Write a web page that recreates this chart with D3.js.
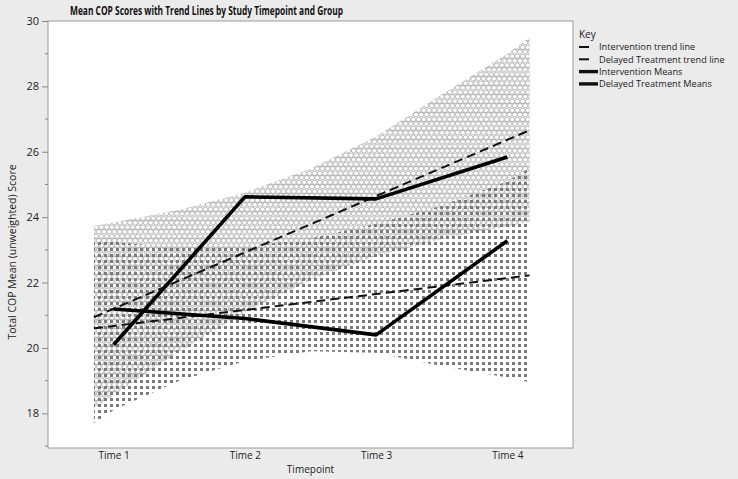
<!DOCTYPE html>
<html>
<head>
<meta charset="utf-8">
<script src="https://cdn.jsdelivr.net/npm/d3@7"></script>
<style>
  body { margin: 0; background: #ebebeb; }
  svg { display: block; font-family: "Open Sans", "Noto Sans", sans-serif; }
</style>
</head>
<body>
<svg width="738" height="479"></svg>
<script>
let timepoints = ["Time 1", "Time 2", "Time 3", "Time 4"];
let time_index = [1, 2, 3, 4];
let intervention_means = [20.1, 24.62, 24.56, 25.84];
let delayed_means = [21.19, 20.9, 20.4, 23.28];

// trend lines, read at the left and right ends of the bands
let trend_t = [0.85, 4.17];
let intervention_trend = [20.94, 26.66];
let delayed_trend = [20.6, 22.22];

// confidence bands
let band_t = [0.85, 1, 1.5, 2, 2.5, 3, 3.5, 4, 4.17];
let intervention_upper = [23.74, 23.84, 24.23, 24.75, 25.48, 26.47, 27.75, 29.0, 29.5];
let intervention_lower = [18.14, 18.56, 19.89, 21.09, 22.08, 22.81, 23.33, 23.72, 23.86];
let delayed_upper = [23.35, 23.25, 23.05, 23.1, 23.35, 23.8, 24.35, 25.1, 25.5];
let delayed_lower = [17.7, 18.1, 19.0, 19.6, 19.9, 19.85, 19.45, 19.1, 18.95];

let y_ticks = [18, 20, 22, 24, 26, 28, 30];
let y_minor = [17, 19, 21, 23, 25, 27, 29];

let keys = [
    { label: "Intervention trend line", kind: "trend" },
    { label: "Delayed Treatment trend line", kind: "trend" },
    { label: "Intervention Means", kind: "mean" },
    { label: "Delayed Treatment Means", kind: "mean" }
];

let plot_l = 48, plot_r = 573, plot_t = 21, plot_b = 448;
let svg = d3.select('svg');

let x = d3.scaleLinear().domain([0.5, 4.5]).range([plot_l, plot_r]);
let y = d3.scaleLinear().domain([16.94, 30]).range([plot_b, plot_t]);

let defs = svg.append('defs');

// honeycomb pattern for the intervention band
let hex = defs.append('pattern')
    .attr('id', 'hex')
    .attr('patternUnits', 'userSpaceOnUse')
    .attr('width', 5.2)
    .attr('height', 9);
[[2.6, 2.25], [0, 6.75], [5.2, 6.75]].forEach(function (c) {
    hex.append('circle')
        .attr('cx', c[0]).attr('cy', c[1]).attr('r', 2.3)
        .attr('fill', 'none').attr('stroke', '#a8a8a8').attr('stroke-width', 0.8);
});

// square dot pattern for the delayed band
defs.append('pattern')
    .attr('id', 'dots')
    .attr('patternUnits', 'userSpaceOnUse')
    .attr('width', 6)
    .attr('height', 6)
    .append('rect')
    .attr('x', 2).attr('y', 2).attr('width', 3).attr('height', 3)
    .attr('shape-rendering', 'crispEdges')
    .attr('fill', '#7a7a7a');

svg.append('rect')
    .attr('x', plot_l).attr('y', plot_t)
    .attr('width', plot_r - plot_l).attr('height', plot_b - plot_t)
    .attr('fill', 'white');

let area = d3.area()
    .x(function (d) { return x(d.t); })
    .y0(function (d) { return y(d.lo); })
    .y1(function (d) { return y(d.hi); });

let int_band = band_t.map(function (t, i) { return { t: t, lo: intervention_lower[i], hi: intervention_upper[i] }; });
let del_band = band_t.map(function (t, i) { return { t: t, lo: delayed_lower[i], hi: delayed_upper[i] }; });

svg.append('path').datum(int_band).attr('d', area).attr('fill', 'url(#hex)');
svg.append('path').datum(del_band).attr('d', area).attr('fill', 'url(#dots)');

let line = d3.line()
    .x(function (d) { return x(d[0]); })
    .y(function (d) { return y(d[1]); });

[intervention_trend, delayed_trend].forEach(function (tr) {
    svg.append('path')
        .datum(trend_t.map(function (t, i) { return [t, tr[i]]; }))
        .attr('d', line)
        .attr('fill', 'none')
        .attr('stroke', '#111')
        .attr('stroke-width', 2)
        .attr('stroke-dasharray', '9,5');
});

[intervention_means, delayed_means].forEach(function (m) {
    svg.append('path')
        .datum(time_index.map(function (t, i) { return [t, m[i]]; }))
        .attr('d', line)
        .attr('fill', 'none')
        .attr('stroke', '#000')
        .attr('stroke-width', 3.6)
        .attr('stroke-linejoin', 'round');
});

svg.append('rect')
    .attr('x', plot_l).attr('y', plot_t)
    .attr('width', plot_r - plot_l).attr('height', plot_b - plot_t)
    .attr('fill', 'none')
    .attr('stroke', '#9a9a9a');

// y axis
let yAxis = svg.append('g')
    .attr('transform', 'translate(' + plot_l + ',0)')
    .call(d3.axisLeft(y).tickValues(y_ticks).tickSize(6).tickPadding(3));
yAxis.select('.domain').remove();
yAxis.selectAll('line').attr('stroke', '#888');
yAxis.selectAll('text').attr('font-size', 11).attr('fill', '#222').attr('font-family', '"Open Sans", sans-serif');

svg.append('g')
    .selectAll('line')
    .data(y_minor)
    .join('line')
    .attr('x1', plot_l - 3).attr('x2', plot_l)
    .attr('y1', function (d) { return y(d); })
    .attr('y2', function (d) { return y(d); })
    .attr('stroke', '#888');

// x axis
let xAxis = svg.append('g')
    .attr('transform', 'translate(0,' + plot_b + ')')
    .call(d3.axisBottom(x).tickValues(time_index).tickSize(0).tickPadding(4)
        .tickFormat(function (d, i) { return timepoints[i]; }));
xAxis.select('.domain').remove();
xAxis.selectAll('text').attr('font-size', 10).attr('fill', '#222').attr('font-family', '"Open Sans", sans-serif');

svg.append('text')
    .attr('x', (plot_l + plot_r) / 2).attr('y', 473)
    .attr('text-anchor', 'middle')
    .attr('font-size', 10).attr('fill', '#222')
    .text('Timepoint');

svg.append('text')
    .attr('transform', 'translate(16,' + 252 + ') rotate(-90)')
    .attr('text-anchor', 'middle')
    .attr('font-size', 10.5).attr('fill', '#222')
    .text('Total COP Mean (unweighted) Score');

svg.append('text')
    .attr('x', 70).attr('y', 15)
    .attr('font-size', 13).attr('font-weight', 'bold').attr('fill', '#111')
    .attr('textLength', 273).attr('lengthAdjust', 'spacingAndGlyphs')
    .text('Mean COP Scores with Trend Lines by Study Timepoint and Group');

// key
svg.append('text')
    .attr('x', 579).attr('y', 38)
    .attr('font-size', 10).attr('fill', '#222')
    .text('Key');

let key = svg.append('g')
    .selectAll('g')
    .data(keys)
    .join('g')
    .attr('transform', function (d, i) { return 'translate(579,' + (47 + i * 12.3) + ')'; });

key.append('line')
    .attr('x1', 0)
    .attr('x2', function (d) { return d.kind == 'trend' ? 10 : 19; })
    .attr('stroke', '#111')
    .attr('stroke-width', function (d) { return d.kind == 'trend' ? 2 : 3.4; });

key.append('text')
    .attr('x', 20)
    .attr('y', 3.2)
    .attr('font-size', 9.2).attr('fill', '#222')
    .text(function (d) { return d.label; });
</script>
</body>
</html>
